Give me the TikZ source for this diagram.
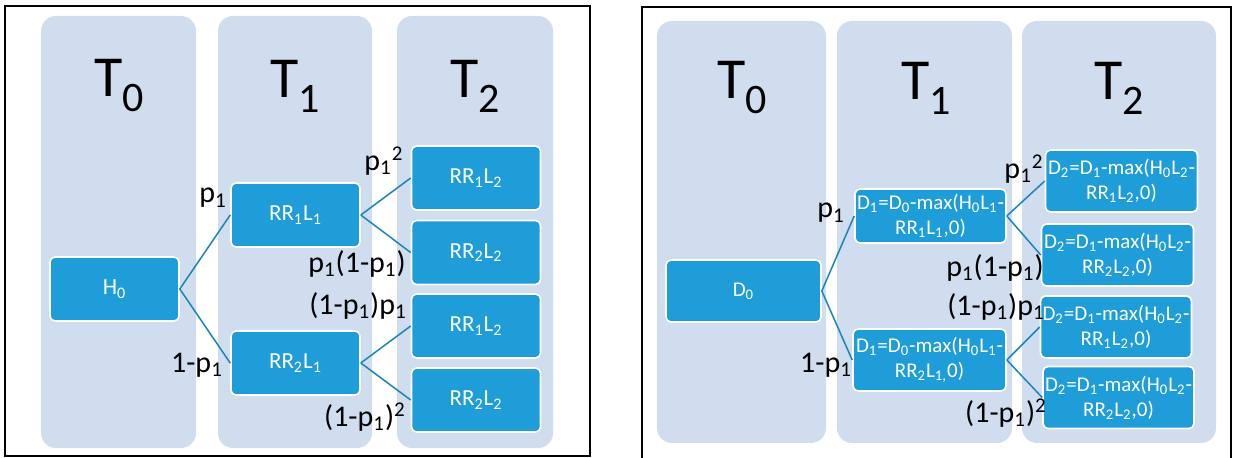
\documentclass[tikz,border=0pt]{standalone}
\usepackage{fontspec}
\setmainfont{Carlito}
\definecolor{lanefill}{HTML}{CFDDEE}
\definecolor{boxfill}{HTML}{1E9DD8}
\definecolor{linkblue}{HTML}{1B84B9}
\newcommand{\Tlabel}[1]{T\raisebox{-7.5pt}{\fontsize{21}{21}\selectfont #1}}
\begin{document}
\begin{tikzpicture}[x=0.5pt,y=-0.5pt,
  lane/.style={fill=\LANECOLOR,rounded corners=7.5pt},
  frame/.style={draw=black,line width=1.2pt},
  state/.style={draw=white,line width=0.8pt,fill=\BOXCOLOR,rounded corners=2.5pt,
    text=white,inner sep=1pt,align=center,minimum width=64.5pt,minimum height=32pt,
    font=\fontsize{11.5}{12}\selectfont},
  dstate/.style={state,minimum width=76pt,minimum height=31pt,
    font=\fontsize{10.5}{12.5}\selectfont},
  period/.style={inner sep=0pt,font=\fontsize{29}{29}\selectfont},
  prob/.style={inner sep=0pt,font=\fontsize{15}{15}\selectfont},
  link/.style={draw=\LINKCOLOR,line width=0.75pt}]
    
\def\LANECOLOR{lanefill}
\def\BOXCOLOR{boxfill}
\def\LINKCOLOR{linkblue}
	\useasboundingbox (0,0) rectangle (1235,458);
	% left tree
	\draw[frame] (5,6) rectangle (590,456);
	\fill[lane] (41,16) rectangle (196,448);
	\fill[lane] (218,16) rectangle (372,448);
	\fill[lane] (397,16) rectangle (553,448);
	\node[period] (lt0) at (119,86) {\Tlabel{0}};
	\node[period] (lt1) at (295,86) {\Tlabel{1}};
	\node[period] (lt2) at (475,86) {\Tlabel{2}};
	\node[state] (h0) at (114.5,289) {H\textsubscript{0}};
	\node[state] (lup) at (295.5,215) {RR\textsubscript{1}L\textsubscript{1}};
	\node[state] (ldn) at (295.5,363) {RR\textsubscript{2}L\textsubscript{1}};
	\node[state] (luu) at (476,178) {RR\textsubscript{1}L\textsubscript{2}};
	\node[state] (lud) at (476,252.5) {RR\textsubscript{2}L\textsubscript{2}};
	\node[state] (ldu) at (476,326) {RR\textsubscript{1}L\textsubscript{2}};
	\node[state] (ldd) at (476,400) {RR\textsubscript{2}L\textsubscript{2}};
	\draw[link] (h0.east) -- (lup.west);
	\draw[link] (h0.east) -- (ldn.west);
	\draw[link] (lup.east) -- (luu.west);
	\draw[link] (lup.east) -- (lud.west);
	\draw[link] (ldn.east) -- (ldu.west);
	\draw[link] (ldn.east) -- (ldd.west);
	\node[prob] (lpa) at (213,198) {p\textsubscript{1}};
	\node[prob] (lpb) at (197,365) {1-p\textsubscript{1}};
	\node[prob] (lpc) at (384,161) {p\textsubscript{1}\textsuperscript{2}};
	\node[prob] (lpd) at (357,264) {p\textsubscript{1}(1-p\textsubscript{1})};
	\node[prob] (lpe) at (358,306) {(1-p\textsubscript{1})p\textsubscript{1}};
	\node[prob] (lpf) at (365,417) {(1-p\textsubscript{1})\textsuperscript{2}};
	% right tree
	\draw[frame] (642,462) |- (1231,7) -- (1231,462);
	\fill[lane] (657,21) rectangle (826,443);
	\fill[lane] (837,21) rectangle (1012,443);
	\fill[lane] (1022,21) rectangle (1216,443);
	\node[period] (rt0) at (742,88) {\Tlabel{0}};
	\node[period] (rt1) at (926,88) {\Tlabel{1}};
	\node[period] (rt2) at (1119,88) {\Tlabel{2}};
	\node[dstate,minimum width=77.5pt] (d0) at (743.5,291) {D\textsubscript{0}};
	\node[dstate,minimum width=75.5pt,minimum height=27pt] (rup) at (930.5,216)
	  {D\textsubscript{1}=D\textsubscript{0}-max(H\textsubscript{0}L\textsubscript{1}-\\RR\textsubscript{1}L\textsubscript{1},0)};
	\node[dstate,minimum width=76.5pt] (rdn) at (929.5,360)
	  {D\textsubscript{1}=D\textsubscript{0}-max(H\textsubscript{0}L\textsubscript{1}-\\RR\textsubscript{2}L\textsubscript{1,}0)};
	\node[dstate] (ruu) at (1121.5,181)
	  {D\textsubscript{2}=D\textsubscript{1}-max(H\textsubscript{0}L\textsubscript{2}-\\RR\textsubscript{1}L\textsubscript{2},0)};
	\node[dstate] (rud) at (1117.5,255)
	  {D\textsubscript{2}=D\textsubscript{1}-max(H\textsubscript{0}L\textsubscript{2}-\\RR\textsubscript{2}L\textsubscript{2},0)};
	\node[dstate,minimum width=74pt] (rdu) at (1116,327)
	  {D\textsubscript{2}=D\textsubscript{1}-max(H\textsubscript{0}L\textsubscript{2}-\\RR\textsubscript{1}L\textsubscript{2},0)};
	\node[dstate,minimum width=75.5pt] (rdd) at (1118.5,397.5)
	  {D\textsubscript{2}=D\textsubscript{1}-max(H\textsubscript{0}L\textsubscript{2}-\\RR\textsubscript{2}L\textsubscript{2},0)};
	\draw[link] (d0.east) -- (rup.west);
	\draw[link] (d0.east) -- (rdn.west);
	\draw[link] (rup.east) -- (ruu.west);
	\draw[link] (rup.east) -- (rud.west);
	\draw[link] (rdn.east) -- (rdu.west);
	\draw[link] (rdn.east) -- (rdd.west);
	\node[prob] (rpa) at (831,213) {p\textsubscript{1}};
	\node[prob] (rpb) at (826,365) {1-p\textsubscript{1}};
	\node[prob] (rpc) at (1024,169) {p\textsubscript{1}\textsuperscript{2}};
	\node[prob] (rpd) at (995,268) {p\textsubscript{1}(1-p\textsubscript{1})};
	\node[prob] (rpe) at (996,307) {(1-p\textsubscript{1})p\textsubscript{1}};
	\node[prob] (rpf) at (1006,413) {(1-p\textsubscript{1})\textsuperscript{2}};

          \end{tikzpicture}
\end{document}
